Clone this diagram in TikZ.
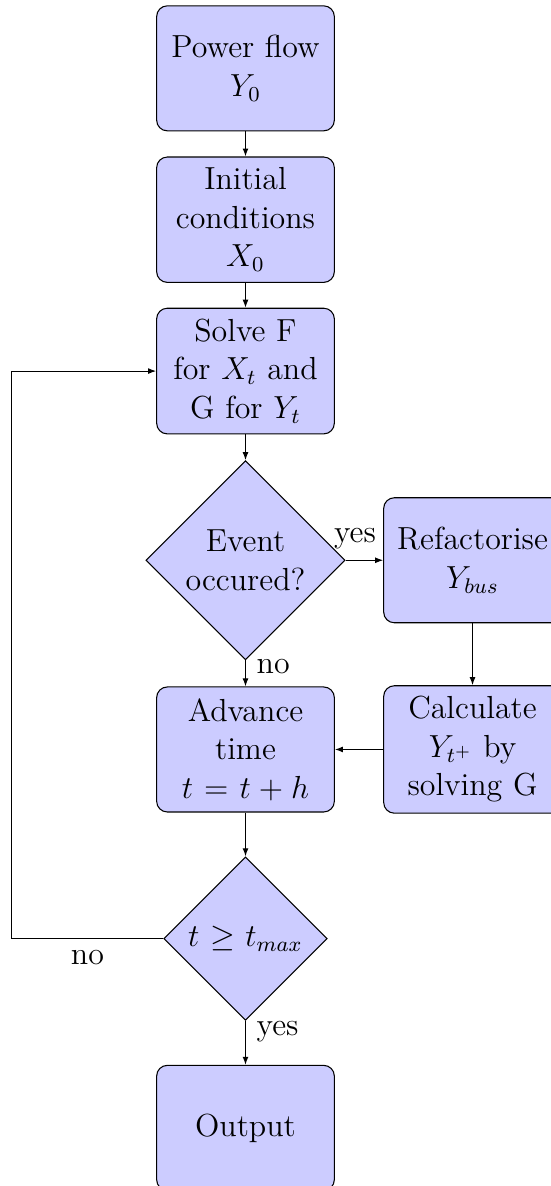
\documentclass[tikz,border=0pt,12pt]{standalone}
\usepackage{amsmath,amssymb}
\usetikzlibrary{arrows.meta,positioning,shapes.geometric}
\tikzset{
  block/.style={draw, rectangle, rounded corners, fill=blue!20, align=center,
    text width=5em, inner xsep=3.4pt, minimum height=47pt},
  decision/.style={draw, diamond, aspect=1, fill=blue!20, align=center,
    text width=1.83cm, inner sep=0pt},
  arr/.style={-{Latex[length=3pt,width=2.2pt]}}
}
\begin{document}
\begin{tikzpicture}[node distance=2cm, on grid]
    \useasboundingbox (-92.3pt,25.7pt) rectangle (114.85pt,-420.2pt);
    \node[block] (power) {Power flow\\$Y_0$};
    \node[block, below=of power] (init) {Initial\\conditions\\$X_0$};
    \node[block, below=of init] (solve) {Solve F\\for $X_t$ and\\G for $Y_t$};
    \node[decision, below=2.5cm of solve] (event) {Event\\occured?};
    \node[block, right=3cm of event] (refactor) {Refactorise\\$Y_{bus}$};
    \node[block, below=2.5cm of event] (advance) {Advance\\time\\$t=t+h$};
    \node[block, right=3cm of advance] (calc) {Calculate\\$Y_{t^+}$ by\\solving G};
    \node[decision, below=2.5cm of advance] (tmax) {$t \geq t_{max}$};
    \node[block, below=2.5cm of tmax] (output) {Output};
    \coordinate[left=2cm of tmax.west] (back);
    \draw[arr] (power) -- (init);
    \draw[arr] (init) -- (solve);
    \draw[arr] (solve) -- (event);
    \draw[arr] (event) -- node[near start, above] {yes} (refactor);
    \draw[arr] (event) -- node[near start, right] {no} (advance);
    \draw[arr] (refactor) -- (calc);
    \draw[arr] (calc) -- (advance);
    \draw[arr] (advance) -- (tmax);
    \draw[arr] (tmax) -- node[near start, right] {yes} (output);
    \draw[arr] (tmax) -- node[below] {no} (back) |- (solve);
  \end{tikzpicture}
\end{document}
